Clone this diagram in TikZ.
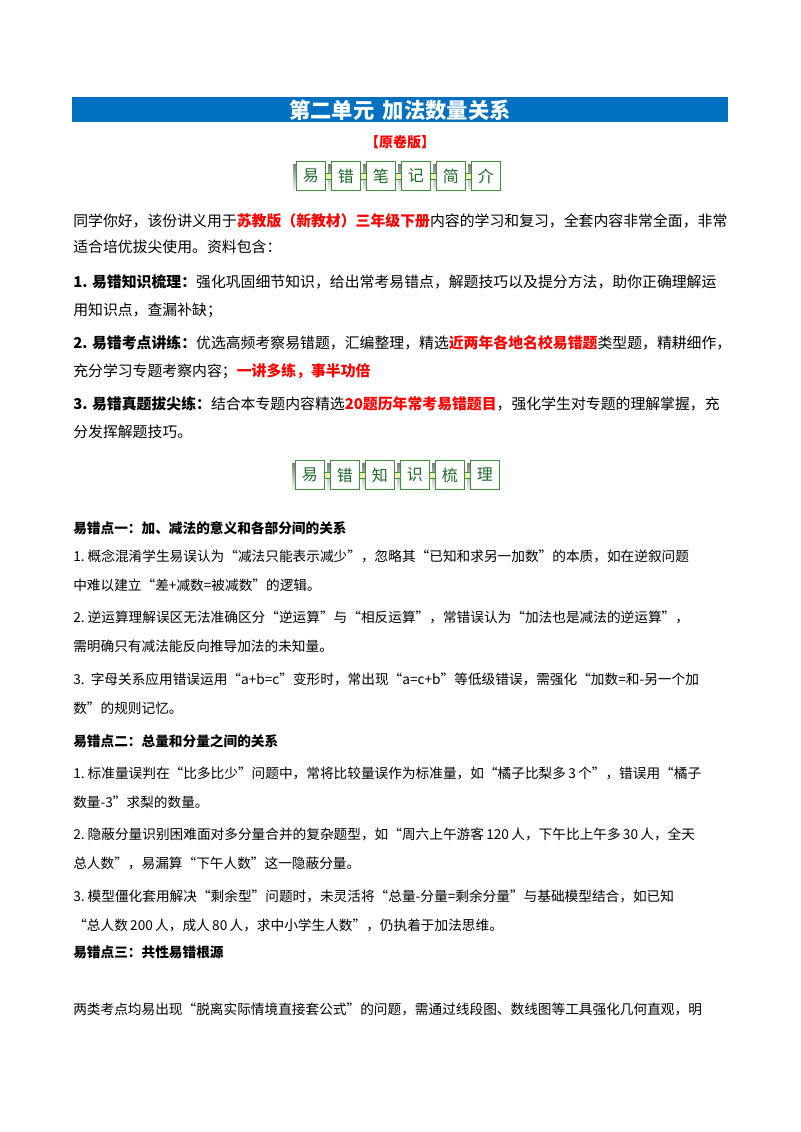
\documentclass[tikz,border=0pt]{standalone}
\usepackage{fontspec}
\setmainfont{Noto Sans CJK SC}
\definecolor{barblue}{HTML}{0070C0}
\definecolor{boxgreen}{HTML}{3E8E3E}
\definecolor{shade}{HTML}{A8D5A0}
\definecolor{link}{HTML}{F3EFB0}
\definecolor{txtgreen}{HTML}{1F6B2A}
\newcommand{\R}[1]{\textcolor{red}{\textbf{#1}}}
\tikzset{
  up/.style={anchor=west,inner sep=0pt,font=\fontsize{11.15}{13}\selectfont},
  lo/.style={anchor=west,inner sep=0pt,font=\fontsize{10.25}{12}\selectfont},
  ch/.style={draw=boxgreen,fill=white,line width=0.6pt,minimum width=21.75pt,minimum height=21.75pt,inner sep=0pt,text=txtgreen,font=\fontsize{12}{12}\selectfont},
}
\newcommand{\boxrow}[3]{%
  \foreach \c [count=\i from 0] in {#3} {
    \pgfmathsetmacro{\xx}{#1+\i*35}
    \fill[shade] (\xx-3,#2+3) rectangle (\xx+26,#2+32);
    \node[ch,anchor=north west] (#1b\i) at (\xx,#2) {\c};
  }
  \foreach \i in {0,...,4} {
    \pgfmathsetmacro{\xx}{#1+\i*35+29}
    \node[draw=boxgreen,fill=link,line width=0.4pt,minimum size=4.5pt,inner sep=0pt] (#1l\i) at (\xx+3,#2+15) {};
  }
}
\begin{document}
\begin{tikzpicture}[x=0.75pt,y=-0.75pt]
\useasboundingbox (0,0) rectangle (800,1132);
\fill[barblue] (72,97) rectangle (728,122);
\node[inner sep=0pt,text=white,font=\fontsize{16}{18}\selectfont\bfseries] (title) at (400,110) {第二单元\hspace{0.4em}加法数量关系};
\node[inner sep=0pt,text=red,font=\fontsize{10.5}{12}\selectfont\bfseries] (ver) at (400,142) {【原卷版】};
\boxrow{296}{161}{易,错,笔,记,简,介}
\boxrow{295}{460}{易,错,知,识,梳,理}

\node[up] (p1) at (73,221) {同学你好，该份讲义用于\R{苏教版（新教材）三年级下册}内容的学习和复习，全套内容非常全面，非常};
\node[up] (p2) at (73,247) {适合培优拔尖使用。资料包含：};
\node[up] (p3) at (73,282) {\textbf{1. 易错知识梳理：}强化巩固细节知识，给出常考易错点，解题技巧以及提分方法，助你正确理解运};
\node[up] (p4) at (73,310) {用知识点，查漏补缺；};
\node[up] (p5) at (73,343) {\textbf{2. 易错考点讲练：}优选高频考察易错题，汇编整理，精选\R{近两年各地名校易错题}类型题，精耕细作，};
\node[up] (p6) at (73,371) {充分学习专题考察内容；\R{一讲多练，事半功倍}};
\node[up] (p7) at (73,404) {\textbf{3. 易错真题拔尖练：}结合本专题内容精选\R{20题历年常考易错题目}，强化学生对专题的理解掌握，充};
\node[up] (p8) at (73,432) {分发挥解题技巧。};

\node[lo] (h1) at (73,528) {\textbf{易错点一：加、减法的意义和各部分间的关系}};
\node[lo] (a1) at (73,556) {1.\ 概念混淆学生易误认为“减法只能表示减少”，忽略其“已知和求另一加数”的本质，如在逆叙问题};
\node[lo] (a2) at (73,585) {中难以建立“差+减数=被减数”的逻辑。};
\node[lo] (a3) at (73,617) {2.\ 逆运算理解误区无法准确区分“逆运算”与“相反运算”，常错误认为“加法也是减法的逆运算”，};
\node[lo] (a4) at (73,646) {需明确只有减法能反向推导加法的未知量。};
\node[lo] (a5) at (73,679) {3.\ \ 字母关系应用错误运用“a+b=c”变形时，常出现“a=c+b”等低级错误，需强化“加数=和-另一个加};
\node[lo] (a6) at (73,708) {数”的规则记忆。};
\node[lo] (h2) at (73,741) {\textbf{易错点二：总量和分量之间的关系}};
\node[lo] (b1) at (73,773) {1.\ 标准量误判在“比多比少”问题中，常将比较量误作为标准量，如“橘子比梨多\,3\,个”，错误用“橘子};
\node[lo] (b2) at (73,802) {数量-3”求梨的数量。};
\node[lo] (b3) at (73,834) {2.\ 隐蔽分量识别困难面对多分量合并的复杂题型，如“周六上午游客\,120\,人，下午比上午多\,30\,人，全天};
\node[lo] (b4) at (73,863) {总人数”，易漏算“下午人数”这一隐蔽分量。};
\node[lo] (b5) at (73,896) {3.\ 模型僵化套用解决“剩余型”问题时，未灵活将“总量-分量=剩余分量”与基础模型结合，如已知};
\node[lo] (b6) at (73,925) {“总人数\,200\,人，成人\,80\,人，求中小学生人数”，仍执着于加法思维。};
\node[lo] (h3) at (73,952) {\textbf{易错点三：共性易错根源}};
\node[lo] (c1) at (73,1009) {两类考点均易出现“脱离实际情境直接套公式”的问题，需通过线段图、数线图等工具强化几何直观，明};
\end{tikzpicture}
\end{document}
